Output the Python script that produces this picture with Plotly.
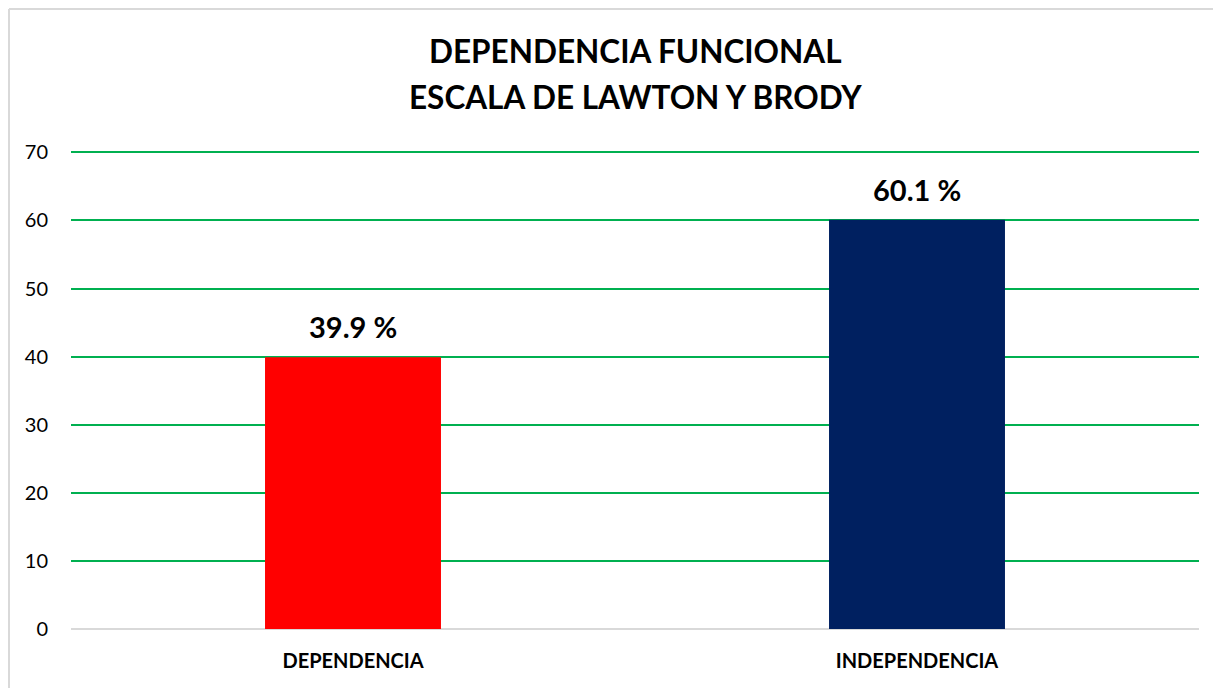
import plotly.graph_objects as go

categories = ["DEPENDENCIA", "INDEPENDENCIA"]
values = [39.9, 60.1]
labels = ["39.9 %", "60.1 %"]
colors = ["#ff0000", "#002060"]
y_ticks = [0, 10, 20, 30, 40, 50, 60, 70]
title_lines = ["DEPENDENCIA FUNCIONAL", "ESCALA DE LAWTON Y BRODY"]

FONT = "Lato"
W, H = 1213, 680
L, R, T, B = 63, 22, 143, 59
PW, PH = W - L - R, H - T - B

fig = go.Figure()
fig.add_trace(go.Bar(
    x=categories, y=values, marker=dict(color=colors, line=dict(width=0)),
    width=0.312, hoverinfo="skip",
))

for c, v, t in zip(categories, values, labels):
    fig.add_annotation(x=c, y=v, text=f"<b>{t}</b>", showarrow=False,
                       yanchor="bottom", yshift=11,
                       font=dict(family=FONT, size=29, color="#000000"))

for line, py in zip(title_lines, [43, 89]):
    fig.add_annotation(xref="paper", yref="paper", x=0.5, xanchor="center",
                       y=1 + (T - py) / PH, yanchor="middle", showarrow=False,
                       text=f"<b>{line}</b>",
                       font=dict(family=FONT, size=31.5, color="#000000"))

border = dict(color="#d9d9d9", width=2)
fig.add_shape(type="line", xref="paper", yref="paper",
              x0=(-L + 1) / PW, x1=(-L + 1) / PW, y0=-(B + 20) / PH, y1=1 + (T - 1) / PH,
              line=border, layer="below")
fig.add_shape(type="line", xref="paper", yref="paper",
              x0=(-L + 1) / PW, x1=(PW + R + 20) / PW, y0=1 + (T - 1) / PH, y1=1 + (T - 1) / PH,
              line=border, layer="below")

fig.update_layout(
    width=W, height=H,
    margin=dict(l=L, r=R, t=T, b=B),
    paper_bgcolor="white", plot_bgcolor="white",
    showlegend=False,
    xaxis=dict(showgrid=False, showline=False, zeroline=False, ticks="",
               ticklabelstandoff=18,
               tickfont=dict(family=FONT, size=20, color="#000000"),
               ticktext=[f"<b>{c}</b>" for c in categories], tickvals=categories),
    yaxis=dict(range=[0, 70.2], tickvals=y_ticks, showgrid=True, gridcolor="#00b050",
               gridwidth=1.5, zeroline=True, zerolinecolor="#d9d9d9", zerolinewidth=1.5,
               showline=False, ticks="", ticklabelstandoff=22,
               tickfont=dict(family=FONT, size=20, color="#000000")),
)

fig.write_html("out.html")
